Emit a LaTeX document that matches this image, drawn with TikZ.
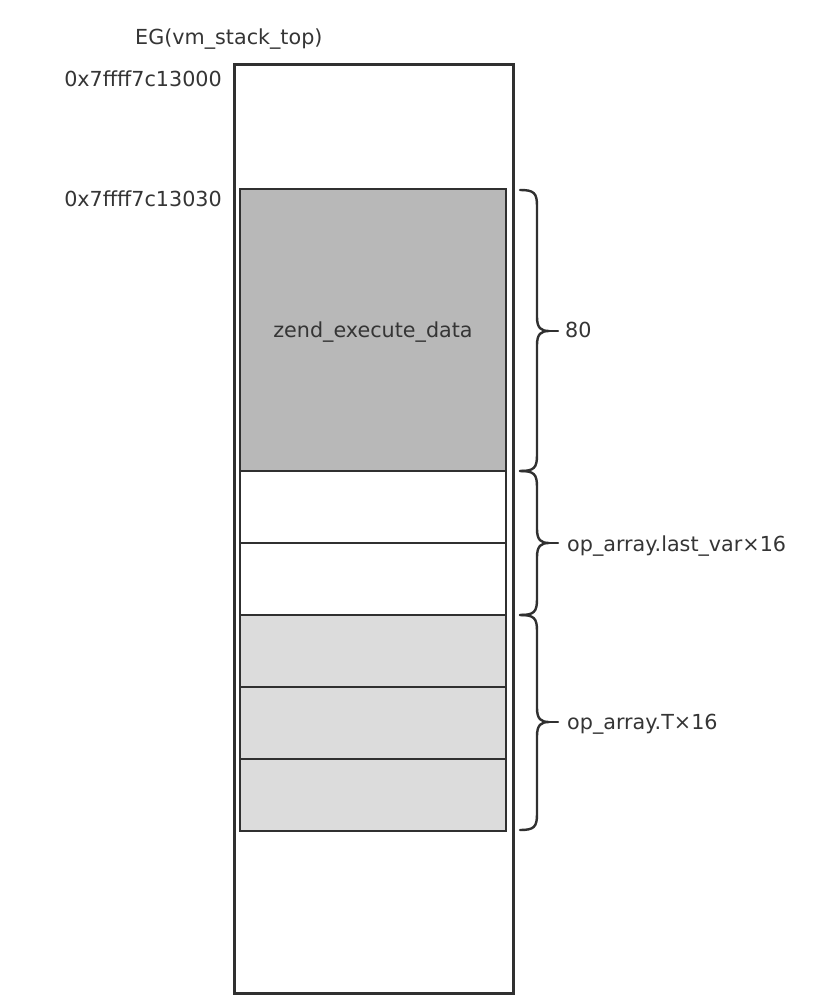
\documentclass[tikz,border=0pt]{standalone}
\usepackage{fontspec}
\setmainfont{DejaVu Sans}
\definecolor{ink}{HTML}{303030}
\definecolor{txt}{HTML}{353535}
\definecolor{darkfill}{HTML}{B8B8B8}
\definecolor{lightfill}{HTML}{DCDCDC}
\begin{document}
\begin{tikzpicture}[x=1pt,y=-1pt,
  lbl/.style={font=\fontsize{20.7}{24}\selectfont, text=txt, inner sep=0pt},
  outerbox/.style={draw=ink, line width=3pt, fill=white, minimum width=279pt, minimum height=928pt, inner sep=0pt},
  cell/.style={draw=ink, line width=2.6pt, minimum width=266pt, inner sep=0pt},
  brc/.style={draw=ink, line width=2.4pt, line cap=round, line join=round}]
\useasboundingbox (0,0) rectangle (815,1000);
\fill[white] (0,0) rectangle (815,1000);

\node[outerbox] (stack) at (373.5,529) {};
\node[cell, fill=darkfill, minimum height=282pt] (zed) at (373,330) {};
\node[cell, fill=white, minimum height=72pt] (w1) at (373,507) {};
\node[cell, fill=white, minimum height=72pt] (w2) at (373,579) {};
\node[cell, fill=lightfill, minimum height=72pt] (g1) at (373,651) {};
\node[cell, fill=lightfill, minimum height=72pt] (g2) at (373,723) {};
\node[cell, fill=lightfill, minimum height=72pt] (g3) at (373,795) {};

\node[lbl, anchor=base west] (eg) at (135,45) {EG(vm\_stack\_top)};
\node[lbl, anchor=base east] (a0) at (222,87) {0x7ffff7c13000};
\node[lbl, anchor=base east] (a1) at (222,207) {0x7ffff7c13030};
\node[lbl, anchor=base] (zl) at (373,337) {zend\_execute\_data};

% braces
\newcommand{\mybrace}[3]{%
  \draw[brc] (520,#1) .. controls (534,#1) and (537,#1+3) .. (537,#1+16)
    -- (537,#3-14) .. controls (537,#3-3) and (541,#3) .. (549,#3)
    .. controls (541,#3) and (537,#3+3) .. (537,#3+14)
    -- (537,#2-16) .. controls (537,#2-3) and (534,#2) .. (520,#2);
  \draw[brc] (548,#3) -- (558,#3);}
\mybrace{190}{471}{331}
\mybrace{471}{615}{543}
\mybrace{615}{830}{722}

\node[lbl, anchor=base west] (l80) at (565,337) {80};
\node[lbl, anchor=base west] (llv) at (567,551) {op\_array.last\_var×16};
\node[lbl, anchor=base west] (lt) at (567,729) {op\_array.T×16};
\end{tikzpicture}
\end{document}
